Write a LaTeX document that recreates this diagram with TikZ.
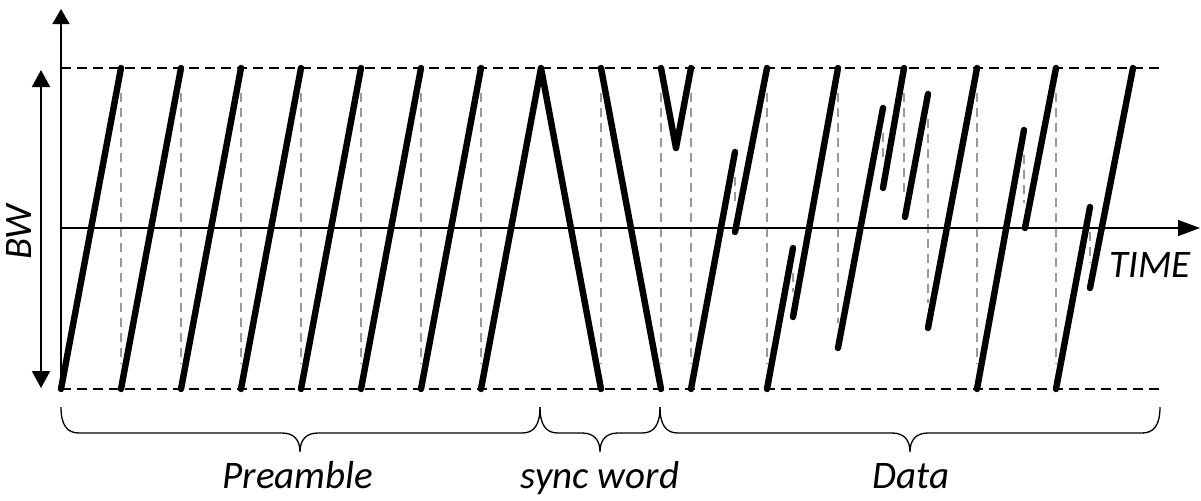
\documentclass[tikz,border=0pt]{standalone}
\usepackage{fontspec}
\setmainfont{Carlito}
\usetikzlibrary{arrows.meta}
\begin{document}
\begin{tikzpicture}[x=0.5pt,y=-0.5pt,
  chirp/.style={line width=3.2pt,line cap=round,line join=round},
  guide/.style={draw=black!40,line width=1.2pt,dash pattern=on 4.5pt off 3pt},
  limit/.style={line width=0.65pt,dash pattern=on 5pt off 3pt},
  brace/.style={line width=0.65pt},
  lbl/.style={font=\fontsize{19.5}{22}\selectfont\itshape,inner sep=0pt}]
\useasboundingbox (0,0) rectangle (1201,500);

% band limits
\draw[limit] (61,68) -- (1161,68);
\draw[limit] (61,389) -- (1161,389);

% symbol boundaries and frequency wrap-arounds (x / top / bottom)
\foreach \x/\t/\b in {121/68/389,181/68/389,241/68/389,301/68/389,361/68/389,
  421/68/389,481/68/389,601/68/389,661/68/389,691/68/389,767/68/389,
  977/68/389,1056/68/389,735/152/232,793/248/317,838/68/348,883/108/188,
  904/68/217,928/94/328,1024/130/228,1090/207/288}
  \draw[guide] (\x,\t+25) -- (\x,\b-25);

% axes
\draw[line width=0.65pt,-{Triangle[length=7.5pt,width=8.5pt]}] (61,389) -- (61,9);
\draw[line width=0.65pt,-{Triangle[length=11pt,width=8pt]}] (61,228) -- (1200,228);
\draw[line width=1pt,{Triangle[length=8.5pt,width=9pt]}-{Triangle[length=8.5pt,width=9pt]}] (41,70) -- (41,388);

% preamble up-chirps
\foreach \x in {61,121,181,241,301,361,421}
  \draw[chirp] (\x,389) -- (\x+60,68);

% sync word
\draw[chirp] (481,389) -- (541,68) -- (601,389);
\draw[chirp] (601,68) -- (661,389);
\draw[chirp] (661,68) -- (676,148) -- (691,68);

% data symbols
\foreach \xa/\ya/\xb/\yb in {691/389/735/152, 735/232/767/68, 767/389/793/248,
  793/317/838/68, 838/348/883/108, 883/188/904/68, 905/217/928/94,
  928/328/977/68, 977/389/1024/130, 1025/228/1056/68, 1056/389/1090/207,
  1090/288/1133/68}
  \draw[chirp] (\xa,\ya) -- (\xb,\yb);

% braces
\foreach \a/\m/\b in {61/300/540, 540/600/660, 660/910/1160}
  \draw[brace] (\a,407) .. controls (\a,425) and (\a+6,433) .. (\a+18,433)
    -- (\m-18,433) .. controls (\m-6,433) and (\m,440) .. (\m,452)
    .. controls (\m,440) and (\m+6,433) .. (\m+18,433)
    -- (\b-18,433) .. controls (\b-6,433) and (\b,425) .. (\b,407);

% labels
\node[lbl,anchor=base] (pre) at (298,488) {Preamble};
\node[lbl,anchor=base] (sync) at (600,488) {sync word};
\node[lbl,anchor=base] (data) at (911,488) {Data};
\node[lbl,anchor=base] (time) at (1150,277) {TIME};
\node[lbl,anchor=base,rotate=90] (bw) at (32,232) {BW};
\end{tikzpicture}
\end{document}
